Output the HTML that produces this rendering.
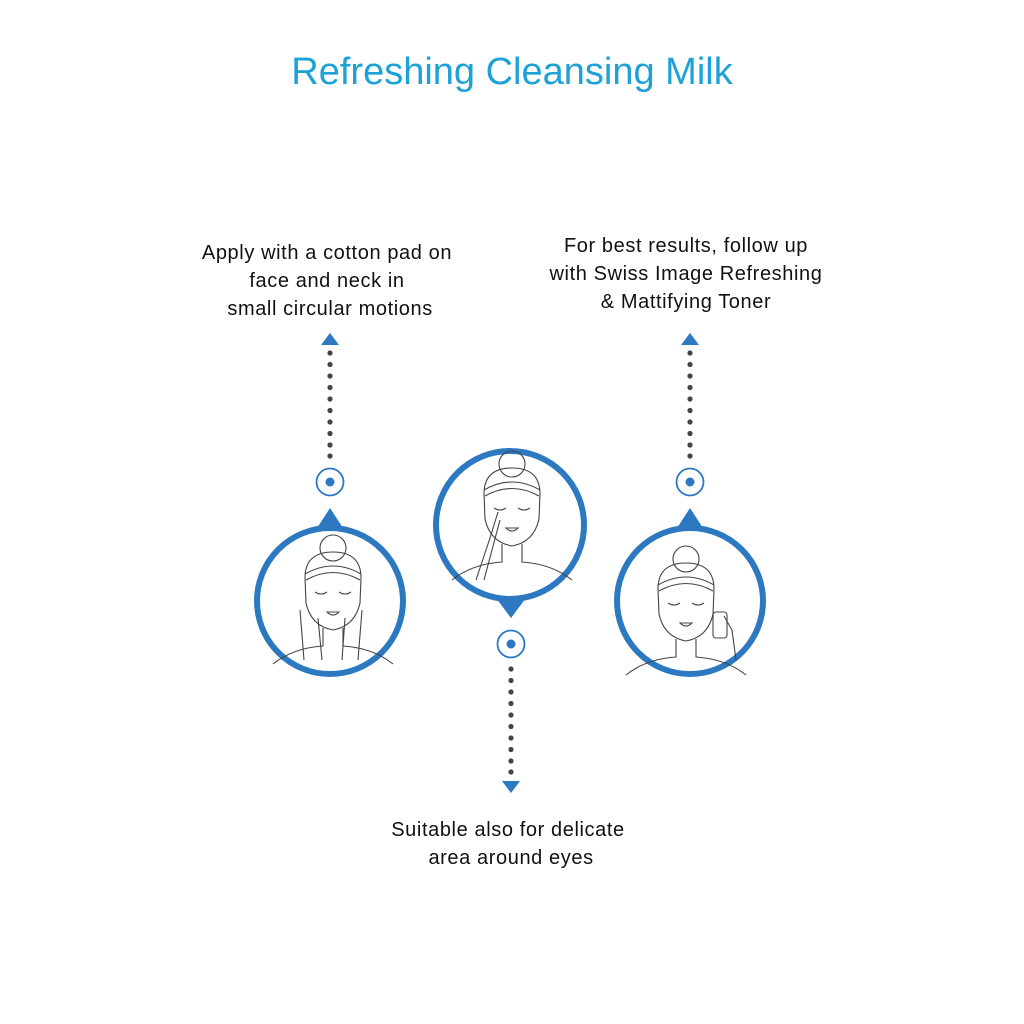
<!DOCTYPE html>
<html><head><style>
body{margin:0;width:1024px;height:1024px;background:#fff;position:relative;font-family:"Liberation Sans",sans-serif;overflow:hidden}
.t{position:absolute;text-align:center;color:#111;font-size:20px;letter-spacing:0.6px;line-height:28px;white-space:nowrap}
</style></head><body>
<div class="t" style="left:0;width:1024px;top:49px;font-size:38px;letter-spacing:0px;color:#1da2d8;line-height:46px">Refreshing Cleansing Milk</div>
<div class="t" style="left:177px;width:300px;top:239px">Apply with a cotton pad on<br>face and neck in<br>&nbsp;small circular motions</div>
<div class="t" style="left:536px;width:300px;top:232px">For best results, follow up<br>with Swiss Image Refreshing<br>&amp; Mattifying Toner</div>
<div class="t" style="left:358px;width:300px;top:816px">Suitable also for delicate<br>&nbsp;area around eyes</div>
<svg width="1024" height="1024" style="position:absolute;left:0;top:0">
<defs>
<g id="face" fill="none" stroke="#444" stroke-width="1.1">
<circle cx="0" cy="-50" r="13"/>
<path d="M-28,-20 Q-28,-46 0,-46 Q28,-46 28,-20 L27,5 Q22,28 0,32 Q-22,28 -27,5 Z"/>
<path d="M-28,-24 Q0,-40 28,-24 M-27,-18 Q0,-33 27,-18"/>
<path d="M-18,-6 Q-12,-2 -6,-6 M6,-6 Q12,-2 18,-6"/>
<path d="M-6,14 Q0,20 6,14 Z"/>
<path d="M-10,30 L-10,48 Q-40,50 -60,66 M10,30 L10,48 Q40,50 60,66"/>
</g>
</defs>
<g fill="#444">
<circle cx="330" cy="353" r="2.6"/><circle cx="330" cy="364.5" r="2.6"/><circle cx="330" cy="376" r="2.6"/><circle cx="330" cy="387.5" r="2.6"/><circle cx="330" cy="399" r="2.6"/><circle cx="330" cy="410.5" r="2.6"/><circle cx="330" cy="422" r="2.6"/><circle cx="330" cy="433.5" r="2.6"/><circle cx="330" cy="445" r="2.6"/><circle cx="330" cy="456" r="2.6"/>
<circle cx="690" cy="353" r="2.6"/><circle cx="690" cy="364.5" r="2.6"/><circle cx="690" cy="376" r="2.6"/><circle cx="690" cy="387.5" r="2.6"/><circle cx="690" cy="399" r="2.6"/><circle cx="690" cy="410.5" r="2.6"/><circle cx="690" cy="422" r="2.6"/><circle cx="690" cy="433.5" r="2.6"/><circle cx="690" cy="445" r="2.6"/><circle cx="690" cy="456" r="2.6"/>
<circle cx="511" cy="669" r="2.6"/><circle cx="511" cy="680.5" r="2.6"/><circle cx="511" cy="692" r="2.6"/><circle cx="511" cy="703.5" r="2.6"/><circle cx="511" cy="715" r="2.6"/><circle cx="511" cy="726.5" r="2.6"/><circle cx="511" cy="738" r="2.6"/><circle cx="511" cy="749.5" r="2.6"/><circle cx="511" cy="761" r="2.6"/><circle cx="511" cy="772" r="2.6"/>
</g>
<g fill="#2c79c2">
<polygon points="321,345 339,345 330,333"/>
<polygon points="681,345 699,345 690,333"/>
<polygon points="502,781 520,781 511,793"/>
<polygon points="317,528 343,528 330,508"/>
<polygon points="677,528 703,528 690,508"/>
<polygon points="496,598 526,598 511,618"/>
<circle cx="330" cy="482" r="4.5"/><circle cx="690" cy="482" r="4.5"/><circle cx="511" cy="644" r="4.5"/>
</g>
<g fill="none" stroke="#2c79c2">
<circle cx="330" cy="482" r="13.5" stroke-width="1.8"/>
<circle cx="690" cy="482" r="13.5" stroke-width="1.8"/>
<circle cx="511" cy="644" r="13.5" stroke-width="1.8"/>
<circle cx="330" cy="601" r="73" stroke-width="6"/>
<circle cx="690" cy="601" r="73" stroke-width="6"/>
<circle cx="510" cy="525" r="74" stroke-width="6"/>
</g>
<use href="#face" x="333" y="598"/>
<use href="#face" x="512" y="514"/>
<use href="#face" x="686" y="609"/>
<g fill="none" stroke="#444" stroke-width="1.1">
<path d="M300,610 L304,660 M318,618 L322,660 M345,618 L342,660 M362,610 L358,660"/>
<path d="M476,580 L490,538 L498,512 M484,580 L500,520"/>
<rect x="713" y="612" width="14" height="26" rx="3"/>
<path d="M736,660 L732,630 L724,616"/>
</g>
</svg>
</body></html>
